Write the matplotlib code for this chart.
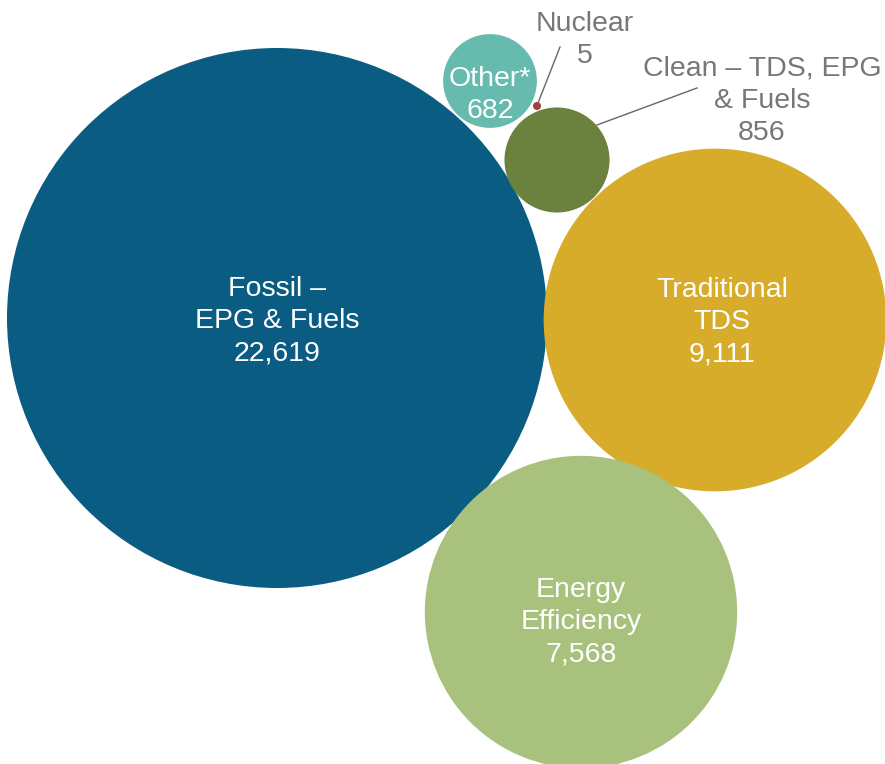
import matplotlib.pyplot as plt
import numpy as np
from matplotlib.patches import Circle

plt.rcParams["font.family"] = ["Liberation Sans", "DejaVu Sans"]

# Werte (Kreisfläche proportional zum Wert)
names = ["Fossil –\nEPG & Fuels", "Traditional\nTDS", "Energy\nEfficiency",
         "Clean – TDS, EPG\n& Fuels", "Other*", "Nuclear"]
values = [22619, 9111, 7568, 856, 682, 5]
colors = ["#0B5C82", "#D7AC2A", "#A8C27D", "#6A823D", "#66BBAE", "#A8403A"]

# Layout in Pixelkoordinaten (885 x 764)
centers = [(277, 318), (715, 320), (581, 612), (557, 160), (490, 81), (537, 106)]
SCALE = 270 / np.sqrt(values[0])

fig = plt.figure(figsize=(8.85, 7.64), dpi=100)
ax = fig.add_axes([0, 0, 1, 1])
ax.set_xlim(0, 885)
ax.set_ylim(764, 0)
ax.set_aspect("equal")
ax.axis("off")

for (cx, cy), v, c in zip(centers, values, colors):
    ax.add_patch(Circle((cx, cy), SCALE * np.sqrt(v), color=c, lw=0))

FS = 20.5
LS = 1.32
text_pos = {0: (277, 321), 1: (722, 322), 2: (581, 622), 4: (490, 95)}
for i, (tx, ty) in text_pos.items():
    ax.text(tx, ty, f"{names[i]}\n{values[i]:,}",
            ha="center", va="center", color="white", fontsize=FS,
            linespacing=LS)

grey = "#777777"
# Nuclear
ax.plot([538, 560], [103, 47], color="#666666", lw=1)
ax.text(585, 40, f"{names[5]}\n{values[5]:,}", ha="center", va="center",
        color=grey, fontsize=FS, linespacing=LS)
# Clean
ax.plot([597, 697], [125, 88], color="#666666", lw=1)
ax.text(762, 101, f"{names[3]}\n{values[3]:,}", ha="center", va="center",
        color=grey, fontsize=FS, linespacing=LS)

fig.savefig("out.png", dpi=100)
